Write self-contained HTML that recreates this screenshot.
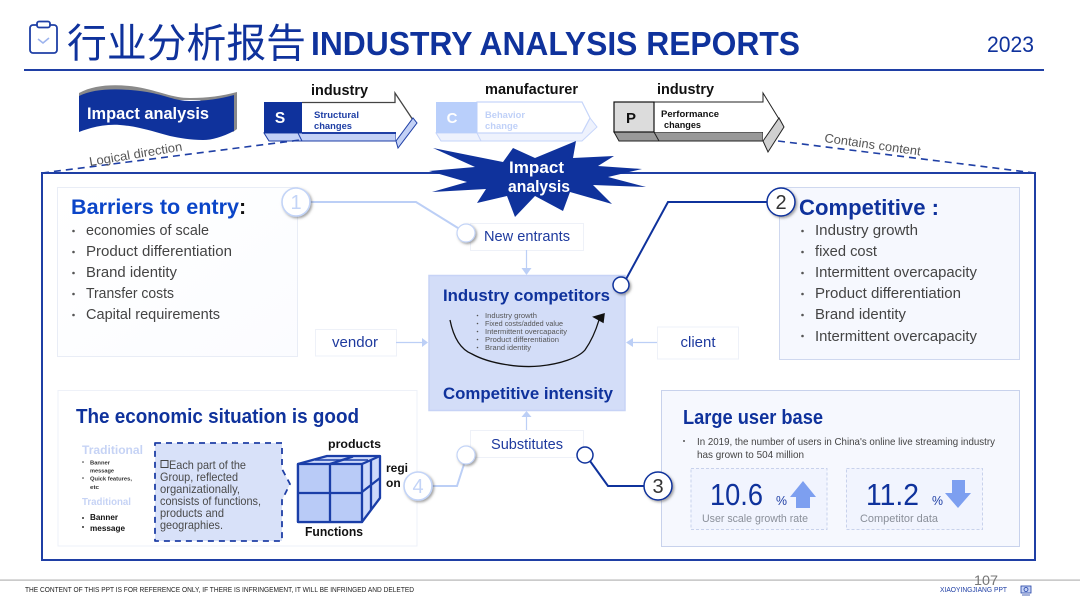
<!DOCTYPE html>
<html><head><meta charset="utf-8"><style>
html,body{margin:0;padding:0;background:#fff;width:1080px;height:608px;overflow:hidden}
svg{display:block}
text{font-family:"Liberation Sans","Noto Sans CJK SC",sans-serif}
.b{font-weight:bold}
.li{font-size:14.5px;fill:#444}
.nav{font-size:14.5px;fill:#1e3a9e;text-anchor:middle}
.h{font-weight:bold;fill:#0f329c}
.k{font-weight:bold;fill:#111}
.sm{font-size:7px;fill:#555}
.cal{font-size:12px;fill:#4a4a4a}
</style></head><body>
<svg width="1080" height="608" viewBox="0 0 1080 608" xmlns="http://www.w3.org/2000/svg">
<defs>
<filter id="sh" x="-40%" y="-40%" width="190%" height="190%"><feDropShadow dx="1.5" dy="1.5" stdDeviation="1.3" flood-color="#555" flood-opacity=".55"/></filter>
<linearGradient id="g1" x1="0" y1="0" x2="1" y2="1"><stop offset="0" stop-color="#ffffff"/><stop offset="1" stop-color="#fbfcff"/></linearGradient>
</defs>

<!-- header -->
<rect x="30" y="25" width="27" height="28" rx="3" fill="none" stroke="#1f3fa5" stroke-width="1.8"/>
<rect x="37" y="21.5" width="13" height="6" rx="2" fill="#fff" stroke="#1f3fa5" stroke-width="1.8"/>
<path d="M38 39l5 4 6-5" fill="none" stroke="#9db4ee" stroke-width="1.6"/>
<text x="67" y="57" font-size="40" fill="#0f329c" textLength="239" lengthAdjust="spacingAndGlyphs" style="font-family:'Noto Sans CJK SC','WenQuanYi Zen Hei',sans-serif;font-weight:400">行业分析报告</text>
<text x="311" y="55" font-size="33" class="h" textLength="489" lengthAdjust="spacingAndGlyphs">INDUSTRY ANALYSIS REPORTS</text>
<text x="987" y="52" font-size="22.5" fill="#0f329c" textLength="47" lengthAdjust="spacingAndGlyphs">2023</text>
<rect x="24" y="69" width="1020" height="2" fill="#1f3fa5"/>

<!-- banner -->
<path d="M79 93C95 84 118 84 137 87C160 91 172 98 190 98C208 98 222 96 237 92V129L233 132L200 100L79 100Z" fill="#8a8a8a"/>
<path d="M79 96C95 88 120 88 147 92C165 95 175 101 190 101C205 101 220 99 234 95V131C222 137 212 140 203 140C190 140 180 138 170 136C152 131 136 126 120 125C105 124 92 127 79 132Z" fill="#0f329c"/>
<text x="87" y="119" font-size="16.5" class="b" fill="#fff" textLength="122" lengthAdjust="spacingAndGlyphs">Impact analysis</text>

<!-- S arrow -->
<text x="311" y="95" font-size="14.5" class="k" textLength="57" lengthAdjust="spacingAndGlyphs">industry</text>
<path d="M264 133l5 8h33l-4-8zM298 133l4 8h94v-8z" fill="#c3d1f6" stroke="#1f3fa5" stroke-width="1"/>
<path d="M302 102.500H395V93L413 120L396 141V133H302Z" fill="#fff"/>
<path d="M302 102.500H395V93L413 120" fill="none" stroke="#444" stroke-width="1.300"/>
<path d="M302 133H396" stroke="#1f3fa5" stroke-width="2"/>
<path d="M396 141L398 148L417 123L413 118Z" fill="#c3d1f6" stroke="#1f3fa5" stroke-width="1"/>
<rect x="264" y="102" width="38" height="31" fill="#0f329c"/>
<text x="280" y="123" font-size="15.500" class="b" fill="#fff" text-anchor="middle">S</text>
<text x="314" y="118" font-size="9" class="b" fill="#1f3fa5" textLength="45" lengthAdjust="spacingAndGlyphs">Structural</text>
<text x="314" y="129" font-size="9" class="b" fill="#1f3fa5" textLength="38" lengthAdjust="spacingAndGlyphs">changes</text>

<!-- C arrow -->
<text x="485" y="94" font-size="14.5" class="k" textLength="93" lengthAdjust="spacingAndGlyphs">manufacturer</text>
<path d="M436 133l5 8h141l15-14-7-9-8 15z" fill="#eef2fd" stroke="#c6d5fa" stroke-width="1"/>
<path d="M477 102H582L590 118L582 133H477Z" fill="#fff" stroke="#c6d5fa" stroke-width="1.200"/>
<path d="M477 133l4 8" stroke="#c6d5fa"/>
<rect x="436" y="102" width="41" height="31" fill="#b9cffb"/>
<text x="452" y="123" font-size="15" class="b" fill="#fff" text-anchor="middle">C</text>
<text x="485" y="118" font-size="9" class="b" fill="#c0d1f8" textLength="40" lengthAdjust="spacingAndGlyphs">Behavior</text>
<text x="485" y="129" font-size="9" class="b" fill="#c0d1f8" textLength="33" lengthAdjust="spacingAndGlyphs">change</text>

<!-- P arrow -->
<text x="657" y="94" font-size="14.5" class="k" textLength="57" lengthAdjust="spacingAndGlyphs">industry</text>
<path d="M614 132l5 9h144v-9z" fill="#999" stroke="#222" stroke-width="1"/>
<path d="M654 102H763V93L779 119L763 141V132H654Z" fill="#fff"/>
<path d="M654 102H763V93L779 119" fill="none" stroke="#222" stroke-width="1"/>
<path d="M763 141l5 11 16-25-5-9z" fill="#d0d0d0" stroke="#222" stroke-width="1"/>
<rect x="614" y="102" width="40" height="30" fill="#dcdcdc" stroke="#111" stroke-width="1.200"/>
<path d="M654 132l5 9" stroke="#222"/>
<text x="631" y="123" font-size="15" class="b" fill="#111" text-anchor="middle">P</text>
<text x="661" y="117" font-size="9" class="b" fill="#111" textLength="58" lengthAdjust="spacingAndGlyphs">Performance</text>
<text x="664" y="128" font-size="9" class="b" fill="#111" textLength="37" lengthAdjust="spacingAndGlyphs">changes</text>

<!-- dashed lines -->
<path d="M42 173L300 140" stroke="#1f3fa5" stroke-width="1.600" stroke-dasharray="7 5" fill="none"/>
<path d="M778 141L1035 173" stroke="#1f3fa5" stroke-width="1.600" stroke-dasharray="7 5" fill="none"/>
<text transform="translate(90 166) rotate(-9.500)" font-size="12.500" fill="#555" textLength="94" lengthAdjust="spacingAndGlyphs">Logical direction</text>
<text transform="translate(824 142) rotate(8)" font-size="12.500" fill="#555" textLength="97" lengthAdjust="spacingAndGlyphs">Contains content</text>

<!-- main frame -->
<rect x="42" y="173" width="993" height="387" fill="#fff" stroke="#1f3fa5" stroke-width="2"/>

<!-- star -->
<path d="M433 148L503 162L513 148L535 158L576 141L573 158L614 156L598 166L642 169L608 177L646 187L593 185L612 204L570 192L563 211L535 196L515 217L507 196L477 203L486 189L432 192L467 182L429 171L475 167Z" fill="#0f329c"/>
<text x="509" y="173" font-size="17" class="b" fill="#fff" textLength="55" lengthAdjust="spacingAndGlyphs">Impact</text>
<text x="508" y="192" font-size="17" class="b" fill="#fff" textLength="62" lengthAdjust="spacingAndGlyphs">analysis</text>

<!-- barriers -->
<rect x="57.500" y="187.500" width="240" height="169" fill="url(#g1)" stroke="#e9edf6"/>
<text x="71" y="214" font-size="21.500" class="b" fill="#0b45c8" textLength="168" lengthAdjust="spacingAndGlyphs">Barriers to entry</text>
<text x="239" y="214" font-size="21.500" class="b" fill="#111">:</text>
<g fill="#555"><circle cx="73.500" cy="231" r="1.300"/><circle cx="73.500" cy="252" r="1.300"/><circle cx="73.500" cy="273" r="1.300"/><circle cx="73.500" cy="294" r="1.300"/><circle cx="73.500" cy="315" r="1.300"/></g>
<text x="86" y="235" class="li" textLength="123" lengthAdjust="spacingAndGlyphs">economies of scale</text>
<text x="86" y="256" class="li" textLength="146" lengthAdjust="spacingAndGlyphs">Product differentiation</text>
<text x="86" y="277" class="li" textLength="91" lengthAdjust="spacingAndGlyphs">Brand identity</text>
<text x="86" y="298" class="li" textLength="88" lengthAdjust="spacingAndGlyphs">Transfer costs</text>
<text x="86" y="319" class="li" textLength="134" lengthAdjust="spacingAndGlyphs">Capital requirements</text>

<!-- connector 1 -->
<path d="M310 202H416L466 233" fill="none" stroke="#bccff6" stroke-width="2"/>
<rect x="470.500" y="223.500" width="113" height="27" fill="#fff" stroke="#eef1f8"/>
<circle cx="296" cy="202" r="14" fill="#fff" stroke="#c3d4f7" stroke-width="1.600" filter="url(#sh)"/>
<text x="296" y="209" font-size="20" fill="#c3d4f7" text-anchor="middle">1</text>
<circle cx="466" cy="233" r="9" fill="#fff" stroke="#c3d4f7" stroke-width="1.200" filter="url(#sh)"/>
<text x="527" y="241" class="nav" textLength="86" lengthAdjust="spacingAndGlyphs">New entrants</text>

<!-- center -->
<path d="M526.500 250V272" stroke="#bccff6" stroke-width="1.200"/>
<path d="M521.500 268h10l-5 7z" fill="#bccff6"/>
<rect x="429" y="275.500" width="196" height="135" fill="#d3ddf8" stroke="#c7d3f6" stroke-width="1.500"/>
<text x="443" y="301" font-size="16.500" class="h" textLength="167" lengthAdjust="spacingAndGlyphs">Industry competitors</text>
<g fill="#555"><circle cx="477.500" cy="315.500" r=".8"/><circle cx="477.500" cy="323.500" r=".8"/><circle cx="477.500" cy="331.500" r=".8"/><circle cx="477.500" cy="339.500" r=".8"/><circle cx="477.500" cy="347.500" r=".8"/></g>
<text x="485" y="318" class="sm" textLength="52" lengthAdjust="spacingAndGlyphs">Industry growth</text>
<text x="485" y="326" class="sm" textLength="78" lengthAdjust="spacingAndGlyphs">Fixed costs/added value</text>
<text x="485" y="334" class="sm" textLength="82" lengthAdjust="spacingAndGlyphs">Intermittent overcapacity</text>
<text x="485" y="342" class="sm" textLength="74" lengthAdjust="spacingAndGlyphs">Product differentiation</text>
<text x="485" y="350" class="sm" textLength="46" lengthAdjust="spacingAndGlyphs">Brand identity</text>
<path d="M450 320C454 340 462 350 472 354C490 364 520 368 540 366C560 364 578 358 585 350C592 340 596 330 599 320" fill="none" stroke="#111" stroke-width="1.300"/>
<path d="M594 317L604 314L603 322Z" fill="#111" stroke="#111" stroke-width="1.500"/>
<text x="443" y="399" font-size="16.500" class="h" textLength="170" lengthAdjust="spacingAndGlyphs">Competitive intensity</text>

<!-- vendor / client -->
<rect x="315.500" y="329.500" width="81" height="26.500" fill="#fff" stroke="#eef1f8"/>
<text x="355" y="347" class="nav" textLength="46" lengthAdjust="spacingAndGlyphs">vendor</text>
<path d="M396 342.500H424" stroke="#bccff6" stroke-width="1.200"/>
<path d="M422 338v9l6-4.500z" fill="#bccff6"/>
<rect x="657.500" y="327" width="81" height="32" fill="#fff" stroke="#eef1f8"/>
<text x="698" y="347" class="nav" textLength="35" lengthAdjust="spacingAndGlyphs">client</text>
<path d="M657 342.500H631" stroke="#bccff6" stroke-width="1.200"/>
<path d="M633 338v9l-7-4.500z" fill="#bccff6"/>

<!-- connector 2 -->
<path d="M625 281L668 202H770" fill="none" stroke="#0f329c" stroke-width="2"/>
<circle cx="621" cy="285" r="8" fill="#fff" stroke="#0f329c" stroke-width="1.500" filter="url(#sh)"/>

<!-- competitive -->
<rect x="779.500" y="187.500" width="240" height="172" fill="#f6f8fe" stroke="#cfd8ef"/>
<circle cx="781" cy="202" r="14" fill="#fff" stroke="#0f329c" stroke-width="1.500" filter="url(#sh)"/>
<text x="781" y="209" font-size="20" fill="#333" text-anchor="middle">2</text>
<text x="799" y="215" font-size="22.500" class="h" textLength="140" lengthAdjust="spacingAndGlyphs">Competitive :</text>
<g fill="#555"><circle cx="802.500" cy="231" r="1.300"/><circle cx="802.500" cy="252" r="1.300"/><circle cx="802.500" cy="273" r="1.300"/><circle cx="802.500" cy="294" r="1.300"/><circle cx="802.500" cy="315" r="1.300"/><circle cx="802.500" cy="336" r="1.300"/></g>
<text x="815" y="235" class="li" textLength="103" lengthAdjust="spacingAndGlyphs">Industry growth</text>
<text x="815" y="256" class="li" textLength="62" lengthAdjust="spacingAndGlyphs">fixed cost</text>
<text x="815" y="277" class="li" textLength="162" lengthAdjust="spacingAndGlyphs">Intermittent overcapacity</text>
<text x="815" y="298" class="li" textLength="146" lengthAdjust="spacingAndGlyphs">Product differentiation</text>
<text x="815" y="319" class="li" textLength="91" lengthAdjust="spacingAndGlyphs">Brand identity</text>
<text x="815" y="341" class="li" textLength="162" lengthAdjust="spacingAndGlyphs">Intermittent overcapacity</text>

<!-- economic -->
<rect x="58" y="390.500" width="359" height="155.500" fill="#fff" stroke="#eef1f8"/>
<text x="76" y="423" font-size="20" class="h" textLength="283" lengthAdjust="spacingAndGlyphs">The economic situation is good</text>
<text x="82" y="454" font-size="12" class="b" fill="#c6d3f5" textLength="61" lengthAdjust="spacingAndGlyphs">Traditional</text>
<g fill="#333"><circle cx="83" cy="462" r=".8"/><circle cx="83" cy="478" r=".8"/><circle cx="83" cy="518" r="1"/><circle cx="83" cy="527" r="1"/></g>
<text x="90" y="464.500" font-size="5.500" class="b" fill="#333" textLength="20" lengthAdjust="spacingAndGlyphs">Banner</text>
<text x="90" y="472.500" font-size="5.500" class="b" fill="#333" textLength="24" lengthAdjust="spacingAndGlyphs">message</text>
<text x="90" y="480.500" font-size="5.500" class="b" fill="#333" textLength="42" lengthAdjust="spacingAndGlyphs">Quick features,</text>
<text x="90" y="489" font-size="5.500" class="b" fill="#333" textLength="9" lengthAdjust="spacingAndGlyphs">etc</text>
<text x="82" y="505" font-size="10.500" class="b" fill="#c6d3f5" textLength="49" lengthAdjust="spacingAndGlyphs">Traditional</text>
<text x="90" y="520" font-size="8" class="b" fill="#111" textLength="28" lengthAdjust="spacingAndGlyphs">Banner</text>
<text x="90" y="531" font-size="8" class="b" fill="#111" textLength="35" lengthAdjust="spacingAndGlyphs">message</text>

<path d="M155 443H282V469L290 484L282 500V541H155Z" fill="#d8e1f9" stroke="#1f3fa5" stroke-width="1.800" stroke-dasharray="6 5" stroke-linejoin="round"/>
<rect x="161" y="460.500" width="7" height="7" fill="none" stroke="#444" stroke-width="1"/>
<text x="169" y="469" class="cal" textLength="77" lengthAdjust="spacingAndGlyphs">Each part of the</text>
<text x="160" y="481" class="cal" textLength="78" lengthAdjust="spacingAndGlyphs">Group, reflected</text>
<text x="160" y="493" class="cal" textLength="80" lengthAdjust="spacingAndGlyphs">organizationally,</text>
<text x="160" y="505" class="cal" textLength="101" lengthAdjust="spacingAndGlyphs">consists of functions,</text>
<text x="160" y="517" class="cal" textLength="64" lengthAdjust="spacingAndGlyphs">products and</text>
<text x="160" y="529" class="cal" textLength="63" lengthAdjust="spacingAndGlyphs">geographies.</text>

<!-- cube -->
<g stroke="#1a3ea8" stroke-width="2.300" stroke-linejoin="round" fill="#b9cbf7">
<path d="M298 464L327 456H380V498L362 522H298Z" fill="#cdd9fa"/>
<path d="M298 464H362V522H298Z"/>
<path d="M362 464L380 456" fill="none"/>
<path d="M330 464V522M298 493H362M362 492L380 478M371 460V510M330 464L353 456.500" fill="none"/>
<path d="M315 460H368" fill="none" stroke-width="1.500"/>
</g>
<text x="328" y="448" font-size="12" class="k" textLength="53" lengthAdjust="spacingAndGlyphs">products</text>
<text x="386" y="472" font-size="12" class="k">regi</text>
<text x="386" y="487" font-size="12" class="k">on</text>
<text x="305" y="536" font-size="13" class="k" textLength="58" lengthAdjust="spacingAndGlyphs">Functions</text>

<!-- connector 4 -->
<path d="M432 486H457L466 458" fill="none" stroke="#bccff6" stroke-width="2"/>
<circle cx="418" cy="486" r="14" fill="#fff" stroke="#c3d4f7" stroke-width="1.600" filter="url(#sh)"/>
<text x="418" y="493" font-size="20" fill="#c3d4f7" text-anchor="middle">4</text>

<!-- substitutes -->
<path d="M526.500 430V415" stroke="#bccff6" stroke-width="1.200"/>
<path d="M521.500 417h10l-5-6z" fill="#bccff6"/>
<rect x="470.500" y="430.500" width="113" height="27" fill="#fff" stroke="#eef1f8"/>
<text x="527" y="449" class="nav" textLength="72" lengthAdjust="spacingAndGlyphs">Substitutes</text>
<circle cx="466" cy="455" r="9" fill="#fff" stroke="#c3d4f7" stroke-width="1.200" filter="url(#sh)"/>
<path d="M590 461L608 486H646" fill="none" stroke="#0f329c" stroke-width="2"/>
<circle cx="585" cy="455" r="8" fill="#fff" stroke="#0f329c" stroke-width="1.500"/>

<!-- large user base -->
<rect x="661.500" y="390.500" width="358" height="156" fill="#f6f8fe" stroke="#c8d2ec"/>
<circle cx="658" cy="486" r="14" fill="#fff" stroke="#0f329c" stroke-width="1.500" filter="url(#sh)"/>
<text x="658" y="493" font-size="20" fill="#333" text-anchor="middle">3</text>
<text x="683" y="424" font-size="20" class="h" textLength="140" lengthAdjust="spacingAndGlyphs">Large user base</text>
<circle cx="684" cy="441" r="1" fill="#555"/>
<text x="697" y="445" font-size="10.500" fill="#444" textLength="298" lengthAdjust="spacingAndGlyphs">In 2019, the number of users in China's online live streaming industry</text>
<text x="697" y="458" font-size="10.500" fill="#444" textLength="107" lengthAdjust="spacingAndGlyphs">has grown to 504 million</text>
<rect x="691" y="468.500" width="136" height="61" fill="#f1f4fe" stroke="#c8d2ec" stroke-dasharray="3 2"/>
<rect x="846.500" y="468.500" width="136" height="61" fill="#f1f4fe" stroke="#c8d2ec" stroke-dasharray="3 2"/>
<text x="710" y="505" font-size="31" fill="#0f329c" textLength="53" lengthAdjust="spacingAndGlyphs">10.6</text>
<text x="776" y="505" font-size="12.500" fill="#1f3fa5" textLength="11" lengthAdjust="spacingAndGlyphs">%</text>
<path d="M803 481L816 497H810V508H796V497H790Z" fill="#7d9ff0"/>
<text x="866" y="505" font-size="31" fill="#0f329c" textLength="53" lengthAdjust="spacingAndGlyphs">11.2</text>
<text x="932" y="505" font-size="12.500" fill="#1f3fa5" textLength="11" lengthAdjust="spacingAndGlyphs">%</text>
<path d="M952 480H965V493H971L958 508L945 493H952Z" fill="#7d9ff0"/>
<text x="702" y="522" font-size="11" fill="#8a8f99" textLength="106" lengthAdjust="spacingAndGlyphs">User scale growth rate</text>
<text x="860" y="522" font-size="11" fill="#8a8f99" textLength="78" lengthAdjust="spacingAndGlyphs">Competitor data</text>

<!-- footer -->
<rect x="0" y="579.500" width="1080" height="1.200" fill="#b5b5b5"/>
<text x="25" y="592" font-size="7.500" fill="#222" textLength="389" lengthAdjust="spacingAndGlyphs">THE CONTENT OF THIS PPT IS FOR REFERENCE ONLY, IF THERE IS INFRINGEMENT, IT WILL BE INFRINGED AND DELETED</text>
<text x="974" y="585" font-size="14" fill="#777" textLength="24" lengthAdjust="spacingAndGlyphs">107</text>
<text x="940" y="592" font-size="7" fill="#1f3fa5" textLength="67" lengthAdjust="spacingAndGlyphs">XIAOYINGJIANG PPT</text>
<rect x="1021" y="586" width="10" height="7" fill="#c6d3f5" stroke="#1f3fa5" stroke-width=".8"/>
<circle cx="1026" cy="589.500" r="2" fill="none" stroke="#1f3fa5" stroke-width=".8"/>
<path d="M1022 595h8" stroke="#1f3fa5" stroke-width=".8"/>
</svg>
</body></html>
